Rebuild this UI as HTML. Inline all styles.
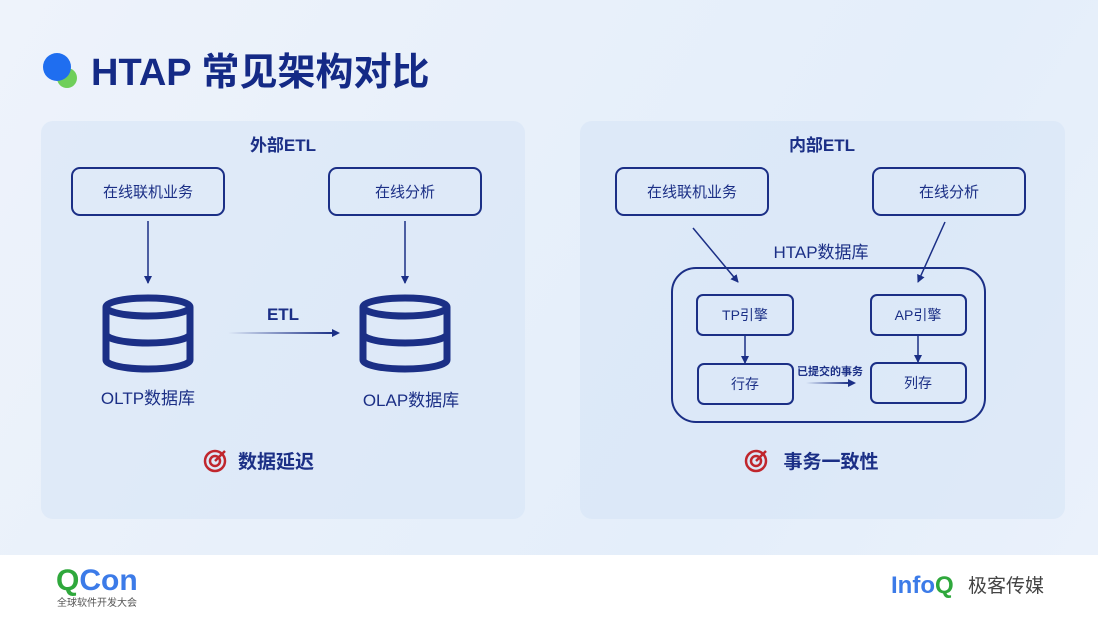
<!DOCTYPE html>
<html><head><meta charset="utf-8"><style>
body{margin:0;width:1098px;height:618px;overflow:hidden;font-family:"Liberation Sans","Noto Sans CJK SC",sans-serif;}
.bg{position:absolute;left:0;top:0;width:1098px;height:555px;background:linear-gradient(120deg,#eef3fb 0%,#e8f0fa 40%,#e4eefa 70%,#eaf1fb 100%);}
.foot{position:absolute;left:0;top:555px;width:1098px;height:63px;background:#fff;}
.panel{position:absolute;top:121px;height:398px;border-radius:12px;background:rgba(214,228,246,0.55);}
svg text{font-family:"Liberation Sans","Noto Sans CJK SC",sans-serif;}
</style></head><body>
<div class="bg"></div>
<div class="panel" style="left:41px;width:484px"></div>
<div class="panel" style="left:580px;width:485px"></div>
<div class="foot"></div>
<svg width="1098" height="618" style="position:absolute;left:0;top:0">
<defs><marker id="a" markerWidth="8" markerHeight="8" refX="7" refY="4" orient="auto" markerUnits="userSpaceOnUse"><path d="M0,0 L8,4 L0,8 z" fill="#1b2f86"/></marker>
<linearGradient id="g" x1="0" x2="1" y1="0" y2="0"><stop offset="0" stop-color="#1b2f86" stop-opacity="0"/><stop offset="1" stop-color="#1b2f86"/></linearGradient></defs>
<circle cx="67" cy="78" r="10" fill="#6fcf5a"/>
<circle cx="57" cy="67" r="14" fill="#1f6ef0"/>
<text x="91" y="85" font-size="38" font-weight="bold" fill="#142a86">HTAP 常见架构对比</text>
<g fill="#1b2f86">
<text x="283" y="151" font-size="17" font-weight="bold" text-anchor="middle">外部ETL</text>
<text x="822" y="151" font-size="17" font-weight="bold" text-anchor="middle">内部ETL</text>
</g>
<g fill="none" stroke="#1b2f86" stroke-width="2">
<rect x="72" y="168" width="152" height="47" rx="8"/>
<rect x="329" y="168" width="152" height="47" rx="8"/>
<rect x="616" y="168" width="152" height="47" rx="8"/>
<rect x="873" y="168" width="152" height="47" rx="8"/>
<rect x="672" y="268" width="313" height="154" rx="24"/>
<rect x="697" y="295" width="96" height="40" rx="6"/>
<rect x="871" y="295" width="95" height="40" rx="6"/>
<rect x="698" y="364" width="95" height="40" rx="6"/>
<rect x="871" y="363" width="95" height="40" rx="6"/>
<line x1="148" y1="221" x2="148" y2="283" stroke-width="1.5" marker-end="url(#a)"/>
<line x1="405" y1="221" x2="405" y2="283" stroke-width="1.5" marker-end="url(#a)"/>
<line x1="693" y1="228" x2="738" y2="282" stroke-width="1.5" marker-end="url(#a)"/>
<line x1="945" y1="222" x2="918" y2="282" stroke-width="1.5" marker-end="url(#a)"/>
<line x1="745" y1="335" x2="745" y2="363" stroke-width="1.5" marker-end="url(#a)"/>
<line x1="918" y1="335" x2="918" y2="362" stroke-width="1.5" marker-end="url(#a)"/>
</g>
<rect x="228" y="332" width="106" height="2" fill="url(#g)"/>
<rect x="806" y="382" width="44" height="2" fill="url(#g)"/>
<path d="M332,329 L340,333 L332,337z M848,379 L856,383 L848,387z" fill="#1b2f86"/>
<g fill="none" stroke="#1b2f86" stroke-width="7">
<g id="cyl"><ellipse cx="148" cy="307" rx="42" ry="9"/><path d="M106,307 V360 A42,9 0 0 0 190,360 V307 M106,334 A42,9 0 0 0 190,334"/></g>
<use href="#cyl" x="257" y="0"/>
</g>
<g fill="#1b2f86" text-anchor="middle" font-size="15">
<text x="148" y="197">在线联机业务</text>
<text x="405" y="197">在线分析</text>
<text x="692" y="197">在线联机业务</text>
<text x="949" y="197">在线分析</text>
<text x="148" y="404" font-size="17">OLTP数据库</text>
<text x="411" y="406" font-size="17">OLAP数据库</text>
<text x="283" y="320" font-size="17" font-weight="bold">ETL</text>
<text x="821" y="258" font-size="17">HTAP数据库</text>
<text x="745" y="320" font-size="14">TP引擎</text>
<text x="918" y="320" font-size="14">AP引擎</text>
<text x="745" y="389" font-size="14">行存</text>
<text x="918" y="388" font-size="14">列存</text>
<text x="830" y="375" font-size="11" font-weight="bold">已提交的事务</text>
<text x="276" y="468" font-size="19" font-weight="bold">数据延迟</text>
<text x="831" y="468" font-size="19" font-weight="bold">事务一致性</text>
</g>
<g fill="none" stroke="#c0262d" stroke-width="2.5">
<circle cx="215" cy="461" r="10"/><circle cx="215" cy="461" r="5"/>
<circle cx="756" cy="461" r="10"/><circle cx="756" cy="461" r="5"/>
<line x1="215" y1="461" x2="225" y2="451"/><line x1="756" y1="461" x2="766" y2="451"/>
</g>
<text x="56" y="590" font-size="30" font-weight="bold" fill="#2fa83c">Q<tspan fill="#3c7be8">Con</tspan></text>
<text x="57" y="606" font-size="10" fill="#555">全球软件开发大会</text>
<text x="891" y="593" font-size="24" font-weight="bold" fill="#3c7be8">Info<tspan fill="#2fa83c">Q</tspan></text>
<text x="968" y="592" font-size="19" fill="#444">极客传媒</text>
</svg>
</body></html>
